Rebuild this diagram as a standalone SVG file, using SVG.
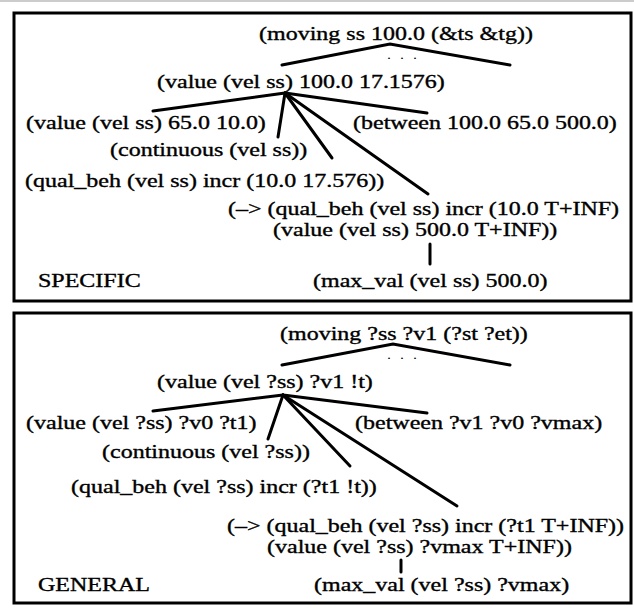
<svg xmlns="http://www.w3.org/2000/svg" width="634" height="608" viewBox="0 0 634 608">
<style>
.t{font-family:"Liberation Serif","Times New Roman",serif;font-size:24px;fill:#000;stroke:#000;stroke-width:0.45}
.d{font-family:"Liberation Serif","Times New Roman",serif;font-size:16px;fill:#000;letter-spacing:9px}
.box{fill:none;stroke:#000;stroke-width:3}
.c line,.c polyline{stroke:#000;stroke-width:3;fill:none;stroke-linecap:round}
</style>
<rect width="634" height="608" fill="#fff"/>
<line x1="0" y1="1" x2="634" y2="1" stroke="#999" stroke-width="1"/>
<g id="specific">
<rect class="box" x="14" y="13" width="617" height="288"/>
<g id="s-moving"><text class="t" transform="translate(259 40) scale(1 .78)">(moving ss 100.0 (&amp;ts &amp;tg))</text><text class="d" transform="translate(387 59) scale(1 .78)">...</text></g>
<g id="s-value"><text class="t" transform="translate(157 88) scale(1 .78)">(value (vel ss) 100.0 17.1576)</text></g>
<g id="s-value0"><text class="t" transform="translate(26 129) scale(1 .78)">(value (vel ss) 65.0 10.0)</text></g>
<g id="s-between"><text class="t" transform="translate(353 129) scale(1 .78)">(between 100.0 65.0 500.0)</text></g>
<g id="s-cont"><text class="t" transform="translate(110 156) scale(1 .78)">(continuous (vel ss))</text></g>
<g id="s-qual"><text class="t" transform="translate(25 187) scale(1 .78)">(qual_beh (vel ss) incr (10.0 17.576))</text></g>
<g id="s-impl"><text class="t" transform="translate(228 215) scale(1 .78)">(–&gt; (qual_beh (vel ss) incr (10.0 T+INF)</text><text class="t" transform="translate(273 236) scale(1 .78)">(value (vel ss) 500.0 T+INF))</text></g>
<g id="s-label"><text class="t" transform="translate(38 287) scale(1 .78)">SPECIFIC</text></g>
<g id="s-max"><text class="t" transform="translate(313 287) scale(1 .78)">(max_val (vel ss) 500.0)</text></g>
</g>
<g id="general">
<rect class="box" x="14" y="313" width="617" height="290"/>
<g id="g-moving"><text class="t" transform="translate(280 340) scale(1 .78)">(moving ?ss ?v1 (?st ?et))</text><text class="d" transform="translate(387 359) scale(1 .78)">...</text></g>
<g id="g-value"><text class="t" transform="translate(157 388) scale(1 .78)">(value (vel ?ss) ?v1 !t)</text></g>
<g id="g-value0"><text class="t" transform="translate(26 429) scale(1 .78)">(value (vel ?ss) ?v0 ?t1)</text></g>
<g id="g-between"><text class="t" transform="translate(355 429) scale(1 .78)">(between ?v1 ?v0 ?vmax)</text></g>
<g id="g-cont"><text class="t" transform="translate(102 458) scale(1 .78)">(continuous (vel ?ss))</text></g>
<g id="g-qual"><text class="t" transform="translate(71 493) scale(1 .78)">(qual_beh (vel ?ss) incr (?t1 !t))</text></g>
<g id="g-impl"><text class="t" transform="translate(227 532) scale(1 .78)">(–&gt; (qual_beh (vel ?ss) incr (?t1 T+INF))</text><text class="t" transform="translate(267 553) scale(1 .78)">(value (vel ?ss) ?vmax T+INF))</text></g>
<g id="g-label"><text class="t" transform="translate(38 591) scale(1 .78)">GENERAL</text></g>
<g id="g-max"><text class="t" transform="translate(314 591) scale(1 .78)">(max_val (vel ?ss) ?vmax)</text></g>
</g>
<g id="connectors" class="c">
<polyline points="282,65 390,44 510,65"/>
<line x1="285" y1="93" x2="153" y2="111"/>
<line x1="285" y1="93" x2="427" y2="113"/>
<line x1="285" y1="93" x2="278" y2="137"/>
<line x1="285" y1="93" x2="332" y2="158"/>
<line x1="285" y1="93" x2="428" y2="194"/>
<line x1="430" y1="244" x2="430" y2="264"/>
<polyline points="282,365 393,344 510,365"/>
<line x1="283" y1="395" x2="153" y2="411"/>
<line x1="283" y1="395" x2="427" y2="413"/>
<line x1="283" y1="395" x2="268" y2="439"/>
<line x1="283" y1="395" x2="350" y2="466"/>
<line x1="283" y1="395" x2="457" y2="506"/>
<line x1="401" y1="560" x2="401" y2="572"/>
</g>
</svg>
